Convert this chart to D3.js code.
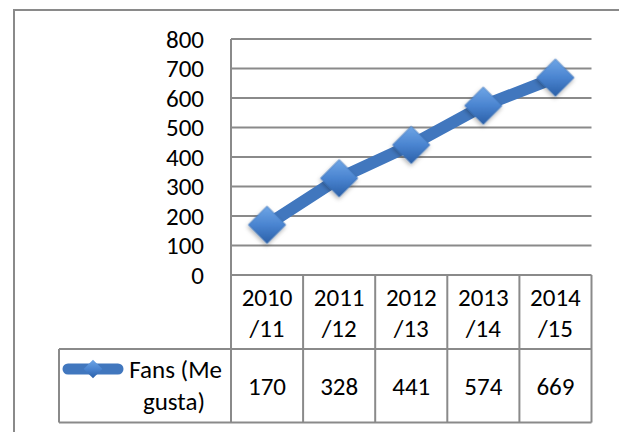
<!DOCTYPE html>
<html>
<head>
<meta charset="utf-8">
<script src="https://d3js.org/d3.v7.min.js"></script>
<style>
  body { margin: 0; background: #fff; }
  svg text { font-family: Carlito, Calibri, Lato, sans-serif; fill: #000; }
</style>
</head>
<body>
<svg id="chart" width="619" height="432"></svg>
<script>
// data
const categories = ["2010/11", "2011/12", "2012/13", "2013/14", "2014/15"];
const fans = [170, 328, 441, 574, 669];
const yTicks = [0, 100, 200, 300, 400, 500, 600, 700, 800];
const seriesName = ["Fans (Me", "gusta)"];

const svg = d3.select("#chart");
const gridColor = "#8a8a8a";
const lineColor = "#4177be";
const fontSize = 25;

// plot area + table layout
const plotLeft = 231, plotRight = 591.5, plotTop = 39, zeroY = 275;
const headBottom = 349, tableBottom = 422.5, legendLeft = 59;

const x = d3.scaleBand().domain(categories).range([plotLeft, plotRight]);
const y = d3.scaleLinear().domain([0, 800]).range([zeroY, plotTop]);

// outer chart frame (runs past right/bottom edge)
svg.append("rect")
  .attr("x", 14).attr("y", 10).attr("width", 700).attr("height", 500)
  .attr("fill", "none").attr("stroke", gridColor).attr("stroke-width", 2);

// defs: marker gradient + shadow
const defs = svg.append("defs");
const grad = defs.append("linearGradient").attr("id", "mk")
  .attr("gradientUnits", "objectBoundingBox")
  .attr("x1", 0).attr("y1", 0).attr("x2", 1).attr("y2", 1);
grad.append("stop").attr("offset", "0%").attr("stop-color", "#6fa6e6");
grad.append("stop").attr("offset", "50%").attr("stop-color", "#4a84d0");
grad.append("stop").attr("offset", "100%").attr("stop-color", "#2b60a8");
const shadow = defs.append("filter").attr("id", "sh")
  .attr("x", "-50%").attr("y", "-50%").attr("width", "200%").attr("height", "200%");
shadow.append("feDropShadow").attr("dx", 1).attr("dy", 2).attr("stdDeviation", 2)
  .attr("flood-color", "#000").attr("flood-opacity", 0.3);

// gridlines
svg.append("g").selectAll("line")
  .data(yTicks.filter(d => d > 0))
  .join("line")
  .attr("x1", plotLeft).attr("x2", plotRight)
  .attr("y1", d => y(d)).attr("y2", d => y(d))
  .attr("stroke", gridColor).attr("stroke-width", 2);

// y axis labels
svg.append("g").selectAll("text")
  .data(yTicks)
  .join("text")
  .attr("x", 204).attr("y", d => y(d))
  .attr("dy", "0.35em")
  .attr("text-anchor", "end")
  .attr("font-size", fontSize)
  .text(d => d);

// data table lines
const tbl = svg.append("g").attr("stroke", gridColor).attr("stroke-width", 2);
tbl.append("line").attr("x1", plotLeft).attr("x2", plotLeft).attr("y1", plotTop).attr("y2", tableBottom);
tbl.append("line").attr("x1", plotLeft).attr("x2", plotRight).attr("y1", zeroY).attr("y2", zeroY);
tbl.append("line").attr("x1", legendLeft).attr("x2", plotRight).attr("y1", headBottom).attr("y2", headBottom);
tbl.append("line").attr("x1", legendLeft).attr("x2", plotRight).attr("y1", tableBottom).attr("y2", tableBottom);
tbl.append("line").attr("x1", legendLeft).attr("x2", legendLeft).attr("y1", headBottom).attr("y2", tableBottom);
tbl.selectAll(".col")
  .data(categories)
  .join("line")
  .attr("x1", d => x(d) + x.bandwidth()).attr("x2", d => x(d) + x.bandwidth())
  .attr("y1", zeroY).attr("y2", tableBottom);

// category headers (two lines)
const head = svg.append("g").selectAll("text")
  .data(categories)
  .join("text")
  .attr("text-anchor", "middle")
  .attr("font-size", fontSize);
head.append("tspan")
  .attr("x", d => x(d) + x.bandwidth() / 2).attr("y", 306)
  .text(d => d.split("/")[0]);
head.append("tspan")
  .attr("x", d => x(d) + x.bandwidth() / 2).attr("y", 337)
  .text(d => "/" + d.split("/")[1]);

// values row
svg.append("g").selectAll("text")
  .data(fans)
  .join("text")
  .attr("x", (d, i) => x(categories[i]) + x.bandwidth() / 2)
  .attr("y", 386).attr("dy", "0.35em")
  .attr("text-anchor", "middle")
  .attr("font-size", fontSize)
  .text(d => d);

// legend cell
const leg = svg.append("g");
leg.append("line")
  .attr("x1", 68).attr("x2", 118).attr("y1", 369).attr("y2", 369)
  .attr("stroke", lineColor).attr("stroke-width", 11).attr("stroke-linecap", "round");
leg.append("path")
  .attr("d", d3.symbol(d3.symbolSquare, 175)())
  .attr("transform", "translate(93,369) rotate(45)")
  .attr("fill", "url(#mk)");
leg.append("text").attr("x", 222).attr("y", 378)
  .attr("text-anchor", "end").attr("font-size", fontSize).text(seriesName[0]);
leg.append("text").attr("x", 205).attr("y", 410)
  .attr("text-anchor", "end").attr("font-size", fontSize).text(seriesName[1]);

// series line
const line = d3.line()
  .x((d, i) => x(categories[i]) + x.bandwidth() / 2)
  .y(d => y(d));
svg.append("path")
  .datum(fans)
  .attr("d", line)
  .attr("fill", "none")
  .attr("stroke", lineColor)
  .attr("stroke-width", 12)
  .attr("stroke-linejoin", "round");

// markers
svg.append("g").selectAll("path")
  .data(fans)
  .join("path")
  .attr("d", d3.symbol(d3.symbolSquare, 700)())
  .attr("transform", (d, i) => `translate(${x(categories[i]) + x.bandwidth() / 2},${y(d)}) rotate(45)`)
  .attr("fill", "url(#mk)")
  .attr("stroke", "#3a6fb3")
  .attr("stroke-width", 0.5)
  .attr("filter", "url(#sh)");
</script>
</body>
</html>
